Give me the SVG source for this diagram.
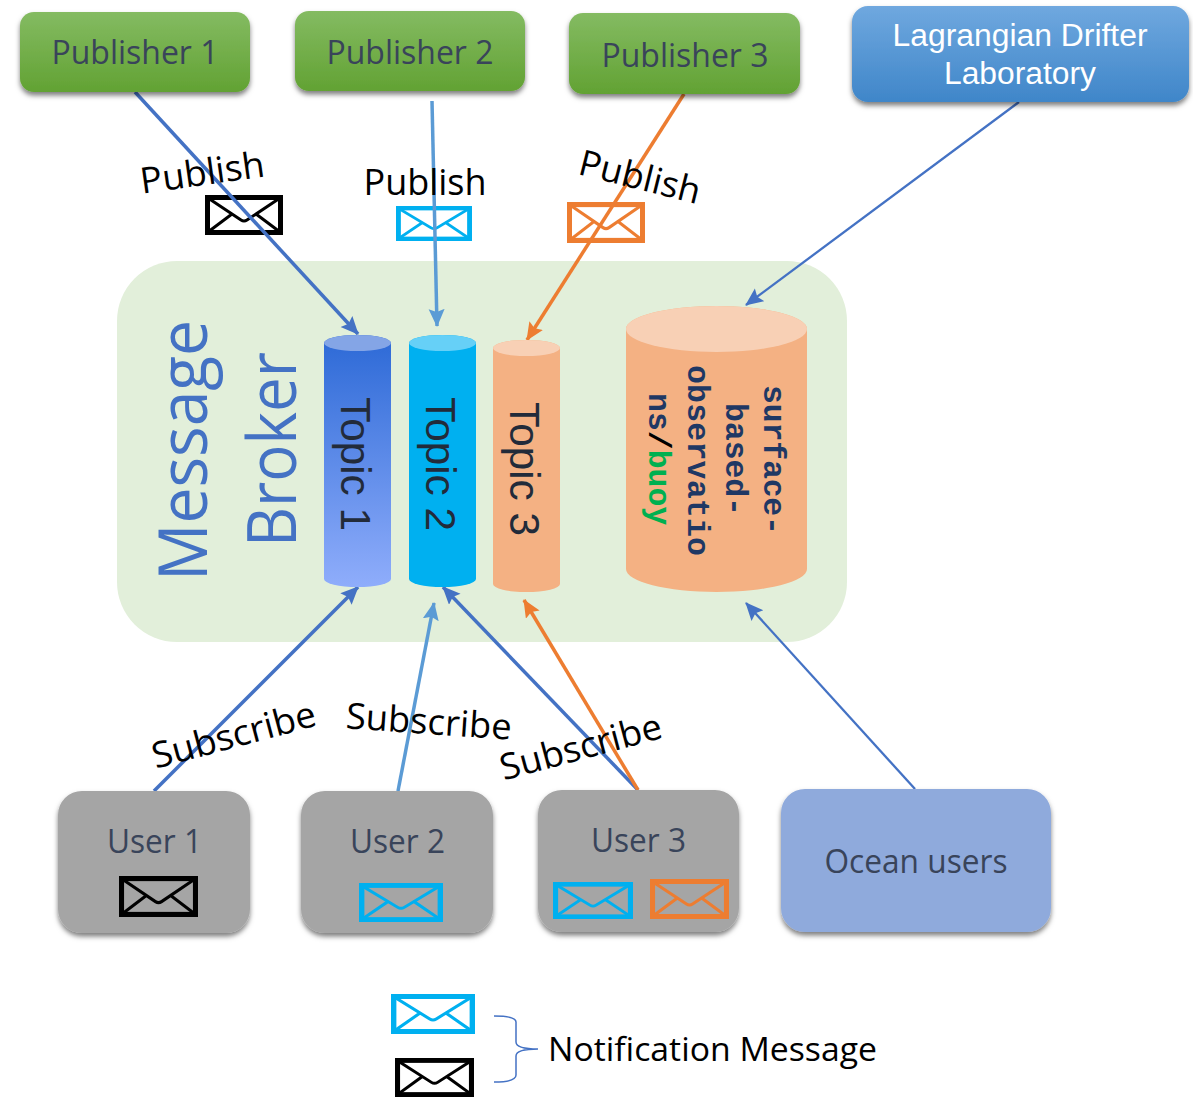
<svg xmlns="http://www.w3.org/2000/svg" width="1193" height="1097" viewBox="0 0 1193 1097">
<style>
text{font-family:"Open Sans","Noto Sans","Liberation Sans",sans-serif}
.lbl{fill:#39445a;font-size:33px;text-anchor:middle}
.act{fill:#000;font-size:36px;text-anchor:middle}
.lag{fill:#fff;font-family:"Liberation Sans",Arial,sans-serif;font-size:31px;text-anchor:middle}
.top{fill:#222b3a;font-family:"Liberation Sans",Arial,sans-serif;font-size:42px}
.cod{fill:#1f3864;font-family:"Liberation Mono","Courier New",monospace;font-weight:bold;font-size:31.5px}
.mb{fill:#4472c4;font-size:68px}
.node{filter:url(#sh)}
.c1{stroke:#4472c4;fill:none}
.c2{stroke:#5b9bd5;fill:none}
.c3{stroke:#ed7d31;fill:none}
</style>
<defs>
<filter id="sh" x="-10%" y="-10%" width="120%" height="125%"><feDropShadow dx="0" dy="3.500" stdDeviation="2.500" flood-color="#000" flood-opacity="0.5"/></filter>
<linearGradient id="gp" x1="0" y1="0" x2="0" y2="1"><stop offset="0" stop-color="#84bb62"/><stop offset="1" stop-color="#62a233"/></linearGradient>
<linearGradient id="gl" x1="0" y1="0" x2="0" y2="1"><stop offset="0" stop-color="#6fa8df"/><stop offset="1" stop-color="#3f86c9"/></linearGradient>
<linearGradient id="gt" x1="0" y1="0" x2="0" y2="1"><stop offset="0" stop-color="#2c69d6"/><stop offset="1" stop-color="#8fadfb"/></linearGradient>
<marker id="a1" markerUnits="userSpaceOnUse" markerWidth="20" markerHeight="18" refX="17" refY="8" orient="auto"><path d="M0 0L18 8L0 16L3 8Z" fill="#4472c4"/></marker>
<marker id="a2" markerUnits="userSpaceOnUse" markerWidth="20" markerHeight="18" refX="17" refY="8" orient="auto"><path d="M0 0L18 8L0 16L3 8Z" fill="#5b9bd5"/></marker>
<marker id="a3" markerUnits="userSpaceOnUse" markerWidth="20" markerHeight="18" refX="17" refY="8" orient="auto"><path d="M0 0L18 8L0 16L3 8Z" fill="#ed7d31"/></marker>
<symbol id="env" viewBox="0 0 78 40" preserveAspectRatio="none" overflow="visible">
<rect x="2.500" y="2.500" width="73" height="35" fill="none" stroke="currentColor" stroke-width="5"/>
<path d="M3 3L36 25Q39 27 42 25L75 3M3 37L27 19M75 37L51 19" fill="none" stroke="currentColor" stroke-width="3"/>
</symbol>
</defs>

<g id="broker">
<rect x="117" y="261" width="730" height="381" rx="60" fill="#e2efda"/>
<text class="mb" transform="translate(207 581) rotate(-90)" textLength="261" lengthAdjust="spacingAndGlyphs">Message</text>
<text class="mb" transform="translate(296 547) rotate(-90)" textLength="195" lengthAdjust="spacingAndGlyphs">Broker</text>
</g>

<g id="env-publish">
<use href="#env" x="205" y="195" width="78" height="40" color="#000"/>
<use href="#env" x="396" y="206" width="76" height="35" color="#00b0f0"/>
<use href="#env" x="567" y="202" width="78" height="41" color="#ed7d31"/>
</g>

<g id="connectors">
<line class="c1" x1="135" y1="92" x2="358" y2="334" stroke-width="3.500" marker-end="url(#a1)"/>
<line class="c2" x1="432" y1="101" x2="437" y2="326" stroke-width="3.500" marker-end="url(#a2)"/>
<line class="c3" x1="684" y1="94" x2="527" y2="340" stroke-width="3.500" marker-end="url(#a3)"/>
<line class="c1" x1="1019" y1="102" x2="746" y2="305" stroke-width="2.300" marker-end="url(#a1)"/>
<line class="c1" x1="154" y1="791" x2="358" y2="587" stroke-width="3.500" marker-end="url(#a1)"/>
<line class="c2" x1="398" y1="791" x2="434" y2="603" stroke-width="3.500" marker-end="url(#a2)"/>
<line class="c1" x1="638" y1="790" x2="443" y2="587" stroke-width="3.500" marker-end="url(#a1)"/>
<line class="c3" x1="638" y1="790" x2="524" y2="600" stroke-width="3.500" marker-end="url(#a3)"/>
<line class="c1" x1="915" y1="789" x2="746" y2="603" stroke-width="2.300" marker-end="url(#a1)"/>
</g>

<g id="labels">
<text class="act" transform="translate(204 185) rotate(-8)" textLength="125" lengthAdjust="spacingAndGlyphs">Publish</text>
<text class="act" x="425" y="195" textLength="123" lengthAdjust="spacingAndGlyphs">Publish</text>
<text class="act" transform="translate(637 189) rotate(14)" textLength="124" lengthAdjust="spacingAndGlyphs">Publish</text>
<text class="act" transform="translate(237 747) rotate(-15)" textLength="168" lengthAdjust="spacingAndGlyphs">Subscribe</text>
<text class="act" transform="translate(428 734) rotate(4)" textLength="166" lengthAdjust="spacingAndGlyphs">Subscribe</text>
<text class="act" transform="translate(584 759) rotate(-15)" textLength="166" lengthAdjust="spacingAndGlyphs">Subscribe</text>
</g>

<g id="publisher1"><rect class="node" x="20" y="12" width="230" height="80" rx="14" fill="url(#gp)"/><text class="lbl" x="135" y="64" textLength="167" lengthAdjust="spacingAndGlyphs">Publisher 1</text></g>
<g id="publisher2"><rect class="node" x="295" y="11" width="230" height="80" rx="14" fill="url(#gp)"/><text class="lbl" x="410" y="64" textLength="167" lengthAdjust="spacingAndGlyphs">Publisher 2</text></g>
<g id="publisher3"><rect class="node" x="569" y="13" width="231" height="81" rx="14" fill="url(#gp)"/><text class="lbl" x="685" y="67" textLength="167" lengthAdjust="spacingAndGlyphs">Publisher 3</text></g>
<g id="lagrangian"><rect class="node" x="852" y="6" width="337" height="96" rx="16" fill="url(#gl)"/><text class="lag" x="1020" y="46" textLength="255" lengthAdjust="spacingAndGlyphs">Lagrangian Drifter</text><text class="lag" x="1020" y="84" textLength="152" lengthAdjust="spacingAndGlyphs">Laboratory</text></g>

<g id="topic1">
<path d="M324 343A33.500 8 0 0 1 391 343V579A33.500 8 0 0 1 324 579Z" fill="url(#gt)"/>
<ellipse cx="357.500" cy="343" rx="33.500" ry="8" fill="#84a5e6"/>
<text class="top" transform="translate(341 397) rotate(90)" textLength="134" lengthAdjust="spacingAndGlyphs">Topic 1</text>
</g>
<g id="topic2">
<path d="M409 343A33.500 8 0 0 1 476 343V579A33.500 8 0 0 1 409 579Z" fill="#00b0f0"/>
<ellipse cx="442.500" cy="343" rx="33.500" ry="8" fill="#66d0f7"/>
<text class="top" transform="translate(426 397) rotate(90)" textLength="134" lengthAdjust="spacingAndGlyphs">Topic 2</text>
</g>
<g id="topic3">
<path d="M493 348A33.500 8 0 0 1 560 348V584A33.500 8 0 0 1 493 584Z" fill="#f4b183"/>
<ellipse cx="526.500" cy="348" rx="33.500" ry="8" fill="#f8d0b5"/>
<text class="top" transform="translate(510 402) rotate(90)" textLength="134" lengthAdjust="spacingAndGlyphs">Topic 3</text>
</g>
<g id="buoy">
<path d="M626 329A90.500 23 0 0 1 807 329V569A90.500 23 0 0 1 626 569Z" fill="#f4b183"/>
<ellipse cx="716.500" cy="329" rx="90.500" ry="23" fill="#f8d0b5"/>
<text class="cod" transform="translate(764 385) rotate(90)" textLength="150">surface-</text>
<text class="cod" transform="translate(726 403) rotate(90)" textLength="113">based-</text>
<text class="cod" transform="translate(688 365) rotate(90)" textLength="191">observatio</text>
<text class="cod" transform="translate(649 393) rotate(90)">ns<tspan fill="#000">/</tspan><tspan fill="#00b050">buoy</tspan></text>
</g>

<g id="user1"><rect class="node" x="58" y="791" width="192" height="142" rx="24" fill="#a5a5a5"/><text class="lbl" x="154.500" y="853" textLength="95" lengthAdjust="spacingAndGlyphs">User 1</text><use href="#env" x="119" y="876" width="79" height="41" color="#000"/></g>
<g id="user2"><rect class="node" x="301" y="791" width="192" height="142" rx="24" fill="#a5a5a5"/><text class="lbl" x="397.500" y="853" textLength="95" lengthAdjust="spacingAndGlyphs">User 2</text><use href="#env" x="359" y="883" width="84" height="39" color="#00b0f0"/></g>
<g id="user3"><rect class="node" x="538" y="790" width="201" height="142" rx="24" fill="#a5a5a5"/><text class="lbl" x="638.500" y="852" textLength="95" lengthAdjust="spacingAndGlyphs">User 3</text><use href="#env" x="553" y="882" width="80" height="37" color="#00b0f0"/><use href="#env" x="650" y="879" width="79" height="40" color="#ed7d31"/></g>
<g id="ocean"><rect class="node" x="781" y="789" width="270" height="143" rx="24" fill="#8faadc"/><text class="lbl" x="916" y="873" textLength="183" lengthAdjust="spacingAndGlyphs">Ocean users</text></g>

<g id="legend">
<use href="#env" x="391" y="994" width="84" height="40" color="#00b0f0"/>
<use href="#env" x="395" y="1058" width="79" height="39" color="#000"/>
<path d="M494 1016Q516 1016 516 1022V1042Q516 1049 538 1049Q516 1049 516 1056V1075Q516 1082 494 1082" fill="none" stroke="#4472c4" stroke-width="1.500"/>
<text x="548" y="1061" fill="#000" font-size="32" textLength="329" lengthAdjust="spacingAndGlyphs">Notification Message</text>
</g>
</svg>
